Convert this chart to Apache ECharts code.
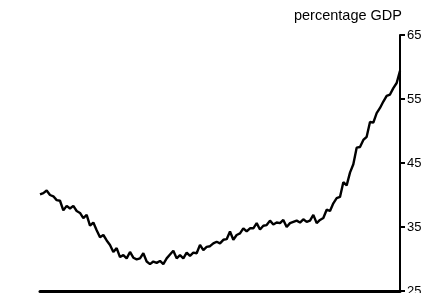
<!DOCTYPE html>
<html>
<head>
<meta charset="utf-8">
<script src="https://cdn.jsdelivr.net/npm/echarts@6/dist/echarts.min.js"></script>
<style>html,body{margin:0;padding:0;background:#fff}#c{width:440px;height:293px}</style>
</head>
<body>
<div id="c"></div>
<script>
var debtValues = [
40.1,40.3,40.7,40.0,39.8,39.2,39.1,37.6,38.3,37.9,
38.3,37.5,37.2,36.4,36.9,35.2,35.7,34.5,33.4,33.75,
32.9,32.2,31.1,31.7,30.3,30.6,30.1,31.1,30.2,29.95,
30.1,30.9,29.6,29.2,29.6,29.4,29.7,29.2,30.1,30.7,
31.3,30.1,30.6,30.1,31.0,30.5,31.0,30.9,32.2,31.4,
31.9,32.0,32.45,32.7,32.45,33.0,33.1,34.3,33.0,33.75,
34.0,34.8,34.3,34.8,34.8,35.6,34.6,35.2,35.3,36.0,
35.4,35.7,35.6,36.1,35.0,35.6,35.8,36.0,35.7,36.2,
35.8,36.0,36.9,35.6,36.1,36.4,37.7,37.5,38.7,39.5,
39.7,42.0,41.5,43.5,44.8,47.4,47.5,48.6,49.1,51.4,
51.3,52.8,53.6,54.6,55.5,55.7,56.7,57.5,59.4
];
var categories = debtValues.map(function(_, i){ return 'P' + (i + 1); });
var yTicks = [25, 35, 45, 55, 65];
var unitLabel = 'percentage GDP';

var chart = echarts.init(document.getElementById('c'), null, {renderer:'canvas'});
chart.setOption({
  animation: false,
  grid: {left: 40, right: 40, top: 35, bottom: 2, containLabel: false, outerBoundsMode: 'none'},
  xAxis: {
    type: 'category',
    data: categories,
    boundaryGap: false,
    axisLine: {show: true, onZero: false, lineStyle: {color: '#000', width: 3}},
    axisTick: {show: false},
    axisLabel: {show: false},
    splitLine: {show: false}
  },
  yAxis: {
    type: 'value',
    position: 'right',
    min: yTicks[0],
    max: yTicks[yTicks.length - 1],
    interval: 10,
    name: unitLabel,
    nameLocation: 'end',
    nameGap: 12,
    nameTextStyle: {color: '#000', fontFamily: 'Liberation Sans', fontSize: 14.5, align: 'right', padding: [0, -2, 0, 0]},
    axisLine: {show: true, lineStyle: {color: '#000', width: 2}},
    axisTick: {show: true, inside: false, length: 5, lineStyle: {color: '#000', width: 2}},
    axisLabel: {color: '#000', fontFamily: 'Liberation Sans', fontSize: 13, margin: 7},
    splitLine: {show: false}
  },
  series: [{
    type: 'line',
    data: debtValues,
    showSymbol: false,
    symbol: 'none',
    smooth: false,
    lineStyle: {color: '#000', width: 2.4}
  }]
});
</script>
</body>
</html>
